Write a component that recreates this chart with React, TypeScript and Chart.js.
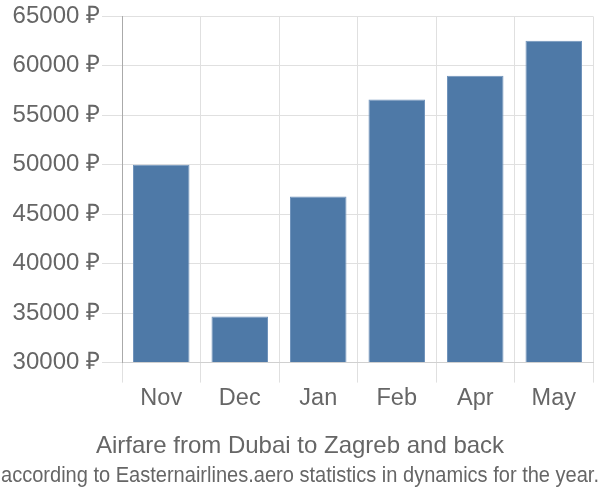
import { useEffect, useRef } from "react";
import { Chart, registerables } from "chart.js";

Chart.register(...registerables);

const categories = ["Nov", "Dec", "Jan", "Feb", "Apr", "May"];
const prices = [50000, 34650, 46800, 56600, 59000, 62550];
const yMin = 30000;
const yMax = 65000;
const yStep = 5000;
const currency = "₽";
const titleText = "Airfare from Dubai to Zagreb and back";
const subtitleText = "according to Easternairlines.aero statistics in dynamics for the year.";

export default function App() {
  const canvasRef = useRef<HTMLCanvasElement | null>(null);

  useEffect(() => {
    document.body.style.margin = "0";
    const canvas = canvasRef.current;
    if (!canvas) return;
    const textColor = "#666666";
    const chart = new Chart(canvas, {
      type: "bar",
      data: {
        labels: categories,
        datasets: [
          {
            data: prices,
            base: yMin,
            backgroundColor: "#4e79a7",
            borderColor: "#7194bc",
            borderWidth: 1,
          } as any,
        ],
      },
      options: {
        animation: false,
        responsive: true,
        maintainAspectRatio: false,
        layout: { padding: { top: 3, right: 1, left: 1, bottom: 0 } },
        plugins: {
          legend: { display: false },
          tooltip: { enabled: false },
          title: {
            display: true,
            text: titleText,
            position: "bottom",
            weight: 1000,
            color: textColor,
            font: { family: "'Liberation Sans', Arial, sans-serif", size: 24, weight: "normal" },
            padding: { top: 17, bottom: 0 },
          } as any,
          subtitle: {
            display: true,
            text: subtitleText,
            position: "bottom",
            weight: 2000,
            color: textColor,
            font: { family: "'Liberation Sans', Arial, sans-serif", size: 22, weight: "normal" },
            padding: { top: 2, bottom: 11 },
          } as any,
        },
        scales: {
          x: {
            grid: {
              color: "#e0e0e0",
              offset: true,
              tickLength: 20,
            },
            border: { color: "#d0d0d0" },
            ticks: {
              color: textColor,
              font: { family: "'Liberation Sans', Arial, sans-serif", size: 23.5 },
              padding: 2,
            },
          },
          y: {
            min: yMin,
            max: yMax,
            grid: { color: "#e0e0e0", tickLength: 20 },
            border: { color: "#aaaaaa" },
            ticks: {
              stepSize: yStep,
              color: textColor,
              font: { family: "'Liberation Sans', Arial, sans-serif", size: 24 },
              padding: 2,
              callback: (v: any) => `${v} ${currency}`,
            },
            afterFit: (scale: any) => {
              scale.width = 121;
            },
          },
          yRight: {
            position: "right",
            display: true,
            grid: { display: false, drawTicks: false },
            border: { display: false },
            ticks: { display: false },
            afterFit: (scale: any) => {
              scale.width = 6;
            },
          },
        },
      },
    });
    return () => chart.destroy();
  }, []);

  return (
    <div style={{ position: "relative", width: 600, height: 500 }}>
      <canvas ref={canvasRef} />
    </div>
  );
}
